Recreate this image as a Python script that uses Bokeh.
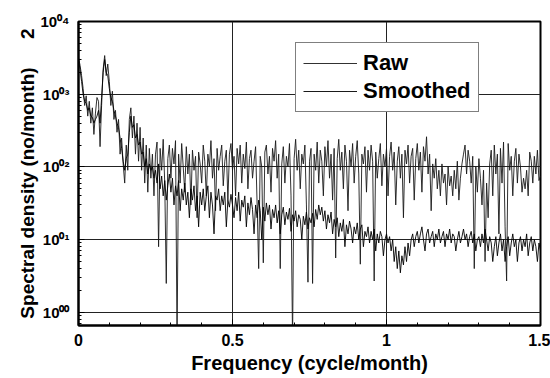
import numpy as np
from bokeh.plotting import figure
from bokeh.models import Range1d, FixedTicker, Legend, LegendItem, NumeralTickFormatter, Title
from bokeh.embed import file_html
from bokeh.resources import INLINE

# ---- data ----
freq_step = 0.005  # cycle/month, spacing of the spectral estimates

raw = [
    3200, 2500, 1800, 1200, 700, 950, 500, 800, 400, 650,
    280, 550, 900, 800, 190, 700, 2200, 3400, 1800, 2600,
    1500, 700, 1100, 450, 600, 300, 450, 150, 250, 110,
    60, 200, 90, 450, 650, 250, 500, 150, 400, 120,
    350, 90, 250, 60, 200, 45, 180, 70, 150, 40,
    150, 220, 8, 180, 90, 240, 60, 2.5, 130, 200,
    70, 180, 110, 230, 0.4, 150, 60, 210, 100, 45,
    190, 80, 150, 30, 170, 90, 140, 20, 160, 110,
    60, 200, 120, 40, 150, 100, 230, 70, 130, 25,
    180, 90, 140, 200, 55, 120, 170, 35, 150, 210,
    90, 140, 40, 180, 110, 200, 60, 150, 95, 220,
    50, 130, 170, 70, 120, 190, 30, 4, 140, 100,
    4.8, 160, 200, 80, 140, 45, 180, 120, 230, 70,
    150, 4, 110, 190, 60, 140, 100, 210, 40, 0.4,
    130, 240, 90, 170, 50, 150, 110, 200, 30, 2.6,
    120, 180, 2.5, 150, 90, 220, 60, 170, 120, 40,
    190, 100, 230, 70, 150, 35, 180, 5.6, 130, 240,
    90, 160, 50, 200, 120, 25, 170, 100, 210, 60,
    140, 230, 80, 4.6, 150, 110, 190, 45, 170, 90,
    200, 120, 2.7, 160, 70, 130, 210, 55, 150, 100,
    180, 40, 140, 220, 90, 160, 30, 120, 190, 70,
    150, 20, 170, 110, 200, 60, 140, 180, 35, 130,
    210, 90, 160, 45, 190, 120, 260, 80, 150, 25,
    110, 70, 130, 50, 90, 40, 110, 60, 80, 30,
    100, 55, 75, 40, 90, 50, 120, 35, 70, 110,
    150, 200, 80, 170, 120, 60, 140, 4, 100, 45,
    130, 70, 30, 90, 5, 60, 20, 110, 170, 40,
    200, 80, 150, 12, 180, 60, 220, 15, 2.7, 210,
    90, 140, 40, 120, 180, 60, 150, 100, 45, 70,
    50, 90, 40, 160, 120, 60, 140, 80, 170, 65,
    75,
]

smoothed = [
    3000, 2200, 1500, 1000, 800, 750, 600, 650, 500, 480,
    400, 450, 500, 600, 400, 900, 2000, 3000, 2000, 1800,
    1200, 900, 800, 600, 500, 400, 350, 250, 180, 120,
    90, 130, 150, 300, 500, 350, 380, 250, 280, 200,
    220, 150, 160, 100, 130, 80, 110, 90, 100, 70,
    90, 60, 110, 50, 75, 40, 65, 35, 55, 80,
    45, 70, 30, 55, 40, 65, 25, 50, 35, 60,
    30, 45, 20, 50, 35, 55, 25, 40, 15, 45,
    30, 50, 25, 40, 55, 20, 45, 30, 12, 40,
    35, 50, 25, 40, 30, 45, 15, 35, 28, 42,
    30, 20, 38, 25, 45, 18, 35, 28, 40, 15,
    32, 22, 38, 26, 12, 30, 20, 35, 25, 10,
    28, 18, 32, 22, 30, 14, 26, 20, 30, 17,
    25, 12, 22, 28, 16, 24, 19, 27, 13, 22,
    18, 25, 15, 22, 19, 10, 21, 16, 24, 14,
    20, 17, 23, 15, 26, 19, 30, 22, 28, 18,
    25, 14, 22, 17, 24, 12, 19, 15, 20, 11,
    17, 13, 19, 8, 16, 12, 18, 14, 9, 15,
    12, 17, 10, 14, 16, 8, 13, 11, 15, 9,
    13, 10, 14, 7, 12, 9, 13, 11, 6, 10,
    12, 9, 11, 7, 10, 5, 8, 4, 7, 3.5,
    6, 4.5, 8, 5, 9, 6, 10, 12, 8, 11,
    13, 9, 12, 15, 10, 7, 12, 14, 9, 11,
    13, 8, 12, 10, 14, 9, 11, 13, 8, 12,
    10, 14, 9, 12, 11, 7, 10, 13, 9, 11,
    14, 10, 12, 8, 11, 13, 9, 12, 7, 10,
    11, 8, 12, 9, 14, 10, 7, 11, 9, 5,
    8, 11, 6, 9, 12, 7, 10, 5, 8, 11,
    6, 9, 12, 8, 10, 5, 9, 11, 7, 10,
    8, 12, 6, 9, 11, 7, 10, 8, 5, 9,
    7,
]

freq = np.round(np.arange(len(raw)) * freq_step, 3)

x_ticks = [0, 0.5, 1, 1.5]
x_minor_ticks = [0.1, 0.2, 0.3, 0.4, 0.6, 0.7, 0.8, 0.9, 1.1, 1.2, 1.3, 1.4]
y_ticks = [1, 10, 100, 1000, 10000]
y_tick_labels = ["10\u2070\u2070", "10\u2070\u00b9", "10\u2070\u00b2",
                 "10\u2070\u00b3", "10\u2070\u2074"]
series_names = ["Raw", "Smoothed"]
x_title = "Frequency (cycle/month)"
y_title = "Spectral density (no/month)\u2003\u20022"

FONT = "Liberation Sans"

p = figure(width=550, height=378,
           x_range=Range1d(0, 1.5), y_range=Range1d(0.66, 10000),
           y_axis_type="log", output_backend="svg", toolbar_location=None,
           min_border_left=78, min_border_right=10, min_border_top=21,
           min_border_bottom=53)
p.background_fill_color = "white"
p.border_fill_color = "white"
p.outline_line_color = "black"
p.outline_line_width = 2

# x axis
p.xaxis.ticker = FixedTicker(ticks=x_ticks, minor_ticks=x_minor_ticks)
p.xaxis.formatter = NumeralTickFormatter(format="0.[0]")
p.xaxis.major_label_text_font = FONT
p.xaxis.major_label_text_font_style = "bold"
p.xaxis.major_label_text_font_size = "16px"
p.xaxis.major_label_text_color = "black"
p.xaxis.major_label_standoff = 8
p.xaxis.major_tick_in = 6
p.xaxis.major_tick_out = 0
p.xaxis.minor_tick_in = 3
p.xaxis.minor_tick_out = 0
p.xaxis.axis_line_width = 2
p.xaxis.axis_label = x_title
p.xaxis.axis_label_text_font = FONT
p.xaxis.axis_label_text_font_style = "bold"
p.xaxis.axis_label_text_font_size = "20px"
p.xaxis.axis_label_text_color = "black"
p.xaxis.axis_label_standoff = 3

# y axis
y_minor = [k * 10.0 ** d for d in range(-1, 4) for k in range(2, 10)]
p.yaxis.ticker = FixedTicker(ticks=y_ticks, minor_ticks=y_minor)
p.yaxis.major_label_overrides = {t: s for t, s in zip(y_ticks, y_tick_labels)}
p.yaxis.major_label_text_font = FONT
p.yaxis.major_label_text_font_style = "bold"
p.yaxis.major_label_text_font_size = "15px"
p.yaxis.major_label_text_color = "black"
p.yaxis.major_label_standoff = 9
p.yaxis.major_tick_in = 6
p.yaxis.major_tick_out = 0
p.yaxis.minor_tick_in = 3
p.yaxis.minor_tick_out = 0
p.yaxis.axis_line_width = 2

ytitle = Title(text=y_title, align="center", offset=-27, standoff=0,
               text_font=FONT, text_font_style="bold", text_font_size="19px",
               text_color="black")
p.add_layout(ytitle, "left")

p.xgrid.grid_line_color = "#222222"
p.xgrid.grid_line_width = 1
p.ygrid.grid_line_color = "#222222"
p.ygrid.grid_line_width = 1

r_raw = p.line(freq, raw, line_color="#1a1a1a", line_width=0.9)
r_smooth = p.line(freq, smoothed, line_color="#000000", line_width=0.9)

legend = Legend(items=[LegendItem(label=series_names[0], renderers=[r_raw]),
                       LegendItem(label=series_names[1], renderers=[r_smooth])],
                location=(217, 213), orientation="vertical")
legend.label_text_font = FONT
legend.label_text_font_style = "bold"
legend.label_text_font_size = "22px"
legend.label_text_color = "black"
legend.glyph_width = 54
legend.label_standoff = 6
legend.spacing = 2
legend.padding = 7
legend.margin = 0
legend.border_line_color = "black"
legend.border_line_width = 1.5
legend.background_fill_color = "white"
legend.background_fill_alpha = 1
p.add_layout(legend, "center")

open("out.html", "w").write(file_html(p, INLINE))
